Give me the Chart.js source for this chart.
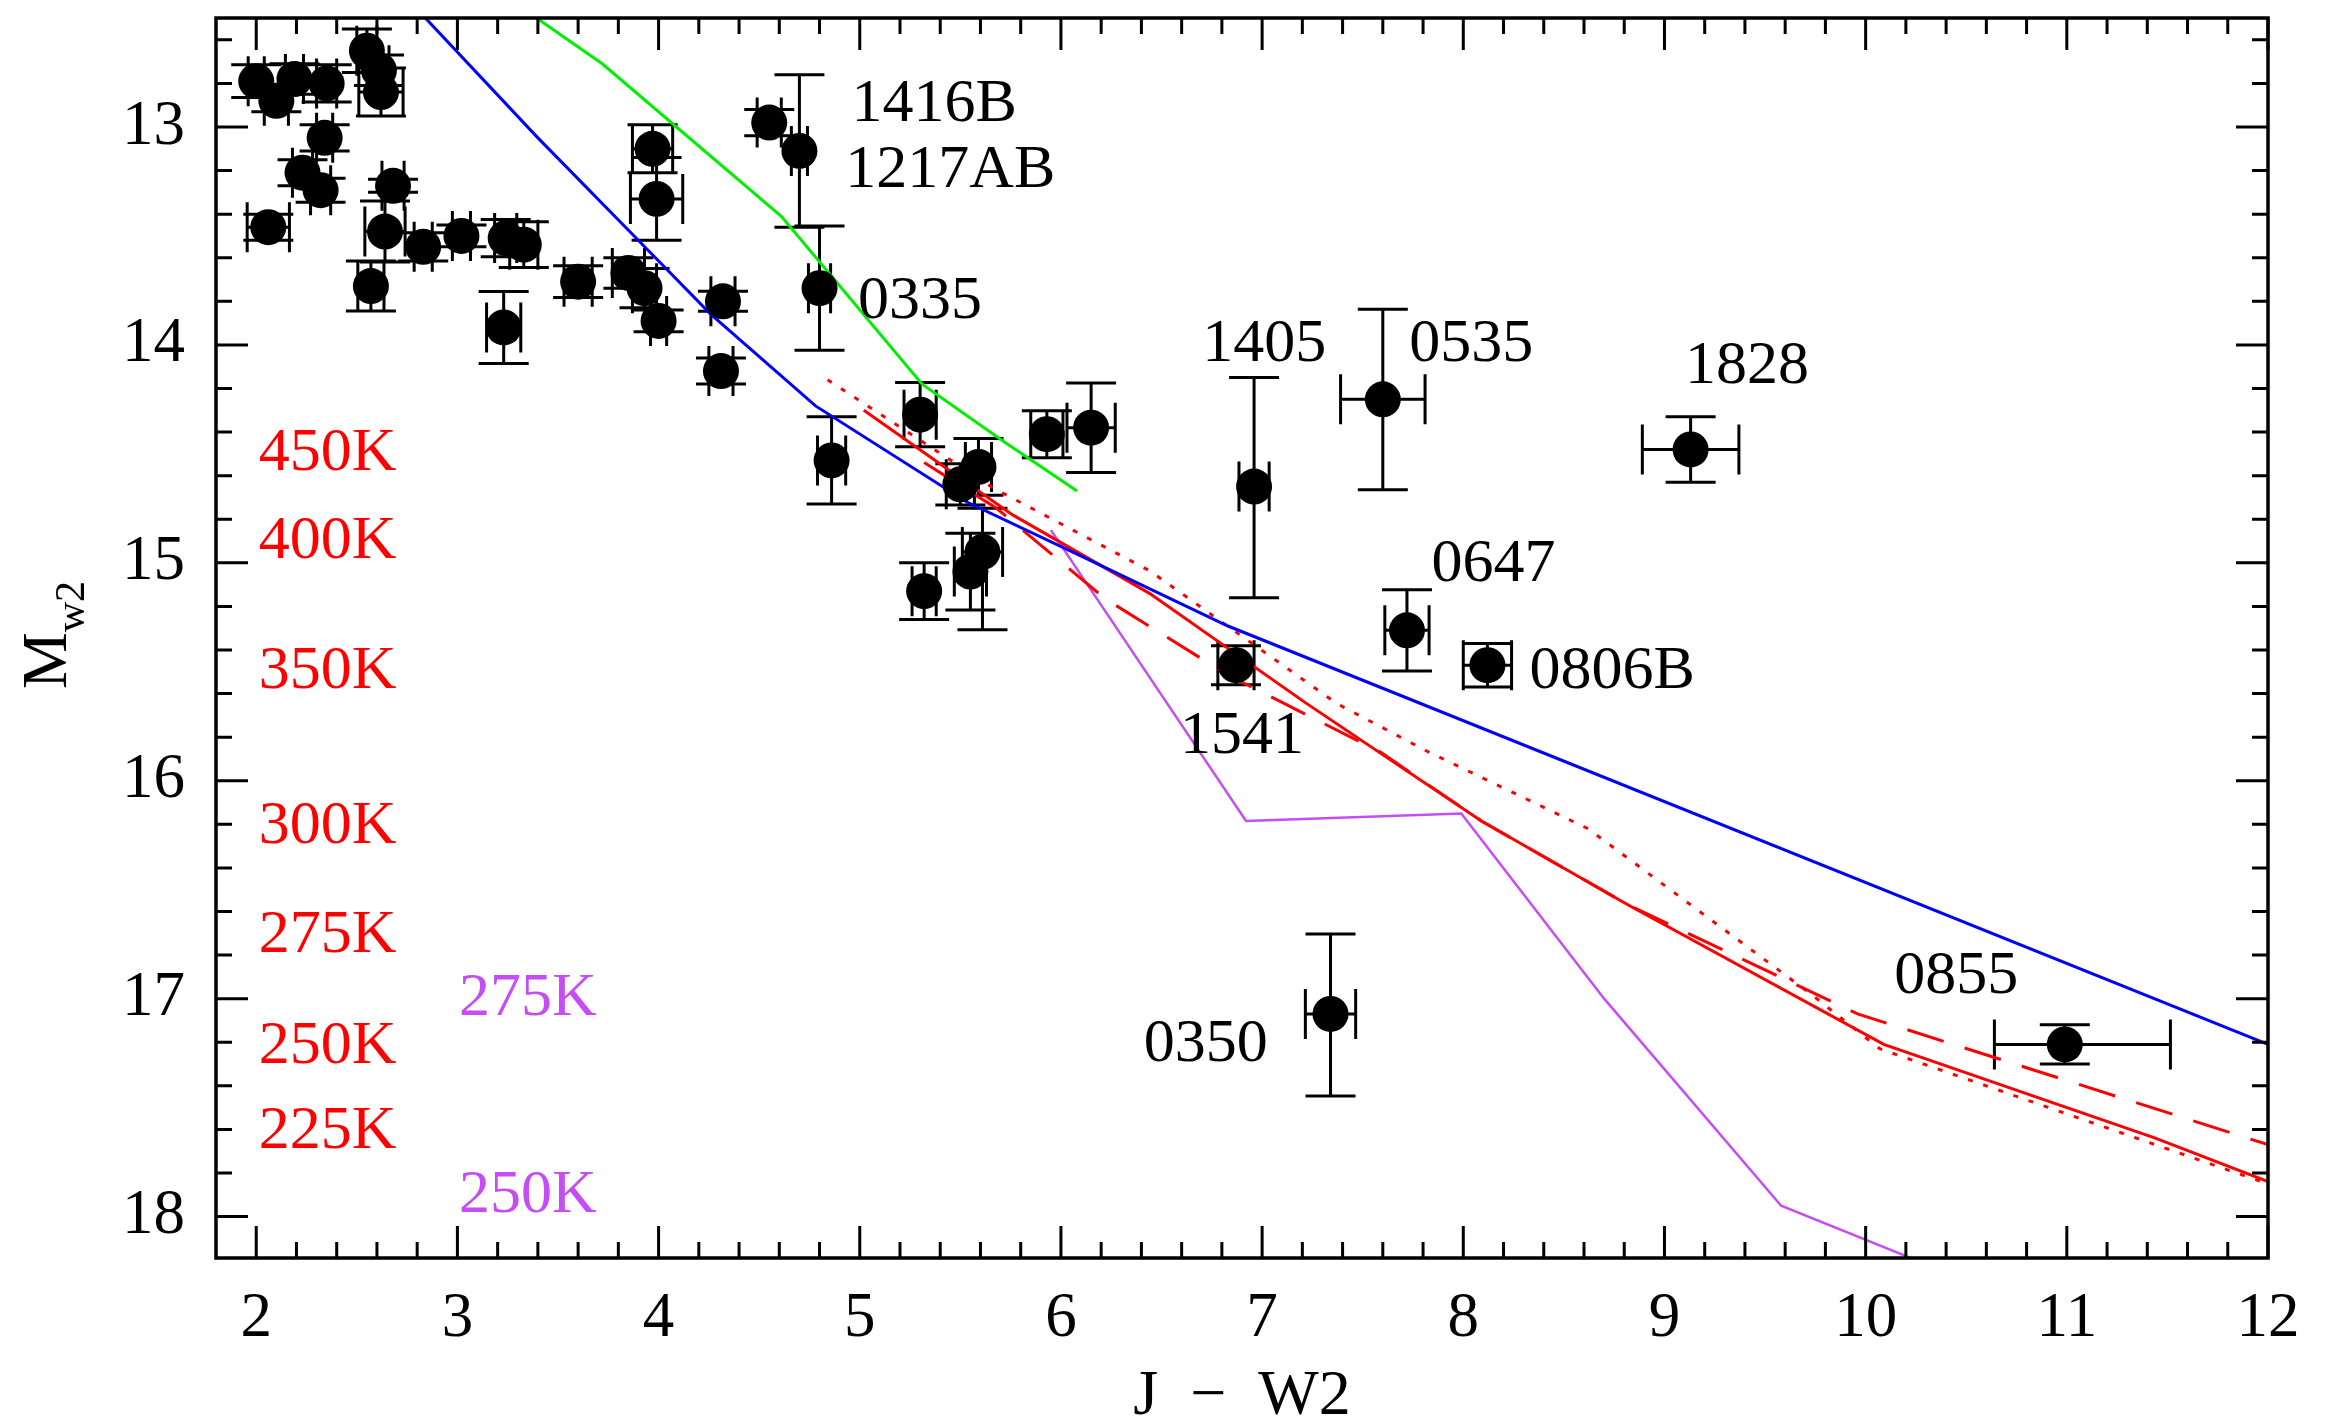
<!DOCTYPE html>
<html>
<head>
<meta charset="utf-8">
<script src="https://cdn.jsdelivr.net/npm/chart.js@4.4.1/dist/chart.umd.min.js"></script>
<style>
  body { margin: 0; background: #fff; }
  canvas { display: block; }
</style>
</head>
<body>
<canvas id="cmd" width="2334" height="1423" style="width:2334px;height:1423px"></canvas>
<script>
// J-W2 colour and W2 absolute magnitude of each object
const ptX = [2.00, 2.10, 2.19, 2.35, 2.55, 2.61, 2.62, 2.34, 2.23, 2.32, 2.06, 2.68, 2.64, 2.57, 2.83, 3.02,
    3.24, 3.33, 3.23, 3.60, 3.85, 3.93, 4.00, 3.97, 3.99, 4.32, 4.31, 4.55, 4.70, 4.80, 4.86, 5.30,
    5.32, 5.50, 5.59, 5.55, 5.61, 5.93, 6.15, 6.87, 6.96, 7.34, 7.60, 7.72, 8.12, 9.13, 10.99];
const ptY = [12.79, 12.88, 12.78, 12.80, 12.65, 12.74, 12.84, 13.05, 13.21, 13.29, 13.46, 13.27, 13.48, 13.73, 13.55, 13.50,
    13.51, 13.54, 13.92, 13.71, 13.67, 13.74, 13.89, 13.10, 13.33, 13.80, 14.12, 12.98, 13.11, 13.74, 14.53, 14.32,
    15.13, 14.64, 14.56, 15.04, 14.95, 14.41, 14.38, 15.47, 14.65, 17.07, 14.25, 15.31, 15.47, 14.48, 17.21];
// errors (lo = towards smaller value, hi = towards larger value)
const xErrLo = [0.04, 0.06, 0.045, 0.05, 0.05, 0.05, 0.11, 0.04, 0.05, 0.05, 0.105, 0.055, 0.10, 0.065, 0.045, 0.045,
    0.055, 0.07, 0.085, 0.07, 0.08, 0.06, 0.04, 0.10, 0.13, 0.06, 0.06, 0.06, 0.04, 0.055, 0.07, 0.08,
    0.06, 0.07, 0.065, 0.08, 0.10, 0.08, 0.12, 0.09, 0.075, 0.125, 0.21, 0.11, 0.12, 0.24, 0.35];
const xErrHi = [0.04, 0.06, 0.045, 0.05, 0.05, 0.05, 0.11, 0.04, 0.05, 0.05, 0.105, 0.055, 0.10, 0.065, 0.045, 0.045,
    0.055, 0.07, 0.085, 0.07, 0.08, 0.06, 0.04, 0.10, 0.13, 0.06, 0.06, 0.06, 0.04, 0.055, 0.07, 0.08,
    0.06, 0.07, 0.065, 0.08, 0.10, 0.08, 0.12, 0.09, 0.075, 0.125, 0.21, 0.11, 0.12, 0.24, 0.525];
const yErrLo = [0.075, 0.05, 0.07, 0.085, 0.10, 0.07, 0.11, 0.06, 0.06, 0.055, 0.06, 0.03, 0.14, 0.115, 0.065, 0.05,
    0.085, 0.105, 0.165, 0.073, 0.07, 0.09, 0.05, 0.11, 0.19, 0.046, 0.06, 0.06, 0.35, 0.285, 0.20, 0.147,
    0.13, 0.095, 0.13, 0.176, 0.20, 0.108, 0.205, 0.09, 0.50, 0.367, 0.414, 0.186, 0.10, 0.15, 0.09];
const yErrHi = [0.075, 0.05, 0.07, 0.085, 0.10, 0.07, 0.11, 0.06, 0.06, 0.055, 0.06, 0.03, 0.14, 0.115, 0.065, 0.05,
    0.085, 0.105, 0.165, 0.073, 0.07, 0.09, 0.05, 0.11, 0.19, 0.046, 0.06, 0.06, 0.35, 0.285, 0.20, 0.147,
    0.13, 0.095, 0.13, 0.176, 0.357, 0.108, 0.205, 0.09, 0.51, 0.377, 0.415, 0.186, 0.10, 0.15, 0.09];

// model tracks
const blueX = [2.80, 3.40, 3.91, 4.26, 4.78, 5.53, 6.08, 6.83, 12.0];
const blueY = [12.46, 13.05, 13.53, 13.86, 14.28, 14.72, 14.96, 15.29, 17.21];
const greenX = [3.30, 3.72, 4.61, 5.31, 5.71, 6.08];
const greenY = [12.44, 12.71, 13.41, 14.18, 14.44, 14.67];
const redSolidX = [5.02, 5.76, 6.44, 7.22, 8.09, 8.82, 10.09, 11.44, 12.0];
const redSolidY = [14.30, 14.78, 15.14, 15.645, 16.185, 16.57, 17.21, 17.64, 17.84];
const redDashX = [5.32, 5.68, 6.22, 6.83, 7.59, 8.09, 8.82, 9.96, 12.0];
const redDashY = [14.54, 14.75, 15.165, 15.515, 15.87, 16.185, 16.57, 17.07, 17.67];
const redDotX = [4.84, 5.66, 6.44, 7.37, 7.81, 8.62, 9.73, 10.07, 12.0];
const redDotY = [14.16, 14.655, 15.036, 15.645, 15.86, 16.22, 16.98, 17.23, 17.85];
const purpleX = [5.95, 6.92, 7.99, 8.70, 9.58, 10.6];
const purpleY = [14.85, 16.185, 16.15, 17.00, 17.95, 18.33];

// object names
const nameText = ['1416B', '1217AB', '0335', '1405', '0535', '1828', '0647', '0806B', '1541', '0350', '0855'];
const nameX = [5.37, 5.45, 5.30, 7.01, 8.04, 9.41, 8.15, 8.74, 6.90, 6.72, 10.45];
const nameY = [12.90, 13.20, 13.80, 14.00, 14.00, 14.10, 15.01, 15.50, 15.80, 17.21, 16.90];

// temperature labels
const redTempText = ['450K', '400K', '350K', '300K', '275K', '250K', '225K'];
const redTempY = [14.50, 14.905, 15.50, 16.21, 16.71, 17.22, 17.61];
const redTempX = 2.355;
const purpleTempText = ['275K', '250K'];
const purpleTempY = [17.00, 17.906];
const purpleTempX = 3.35;

const FONT = '"Liberation Serif", "DejaVu Serif", serif';
const PURPLE = '#c64cf5';

function toPoints(xs, ys) {
    return xs.map((x, i) => ({ x: x, y: ys[i] }));
}

function lineSet(xs, ys, color, dash, width) {
    return {
        type: 'line',
        data: toPoints(xs, ys),
        borderColor: color,
        borderWidth: width || 3,
        borderDash: dash || [],
        pointRadius: 0,
        fill: false,
        tension: 0
    };
}

// fixed axis box, no extra label padding
function fixScale(size) {
    return s => {
        if (s.isHorizontal()) s.height = size; else s.width = size;
        s.paddingTop = 0;
        s.paddingBottom = 0;
        s.paddingLeft = 0;
        s.paddingRight = 0;
    };
}

const errorBars = {
    id: 'errorBars',
    beforeDatasetsDraw(chart) {
        const { ctx, chartArea, scales: { x, y } } = chart;
        const cap = 25;
        ctx.save();
        ctx.beginPath();
        ctx.rect(chartArea.left, chartArea.top, chartArea.right - chartArea.left, chartArea.bottom - chartArea.top);
        ctx.clip();
        ctx.strokeStyle = '#000';
        ctx.lineWidth = 3;
        ptX.forEach((vx, i) => {
            const px = x.getPixelForValue(vx);
            const py = y.getPixelForValue(ptY[i]);
            const x1 = x.getPixelForValue(vx - xErrLo[i]);
            const x2 = x.getPixelForValue(vx + xErrHi[i]);
            const y1 = y.getPixelForValue(ptY[i] - yErrLo[i]);
            const y2 = y.getPixelForValue(ptY[i] + yErrHi[i]);
            ctx.beginPath();
            ctx.moveTo(x1, py); ctx.lineTo(x2, py);
            ctx.moveTo(x1, py - cap); ctx.lineTo(x1, py + cap);
            ctx.moveTo(x2, py - cap); ctx.lineTo(x2, py + cap);
            ctx.moveTo(px, y1); ctx.lineTo(px, y2);
            ctx.moveTo(px - cap, y1); ctx.lineTo(px + cap, y1);
            ctx.moveTo(px - cap, y2); ctx.lineTo(px + cap, y2);
            ctx.stroke();
        });
        ctx.restore();
    }
};

const labelsAndFrame = {
    id: 'labelsAndFrame',
    afterDraw(chart) {
        const { ctx, chartArea: a, scales: { x, y } } = chart;
        ctx.save();

        // text labels
        ctx.font = '62px ' + FONT;
        ctx.textAlign = 'center';
        ctx.textBaseline = 'middle';
        ctx.fillStyle = '#000';
        nameText.forEach((t, i) => ctx.fillText(t, x.getPixelForValue(nameX[i]), y.getPixelForValue(nameY[i])));
        ctx.fillStyle = '#ff0000';
        redTempText.forEach((t, i) => ctx.fillText(t, x.getPixelForValue(redTempX), y.getPixelForValue(redTempY[i])));
        ctx.fillStyle = PURPLE;
        purpleTempText.forEach((t, i) => ctx.fillText(t, x.getPixelForValue(purpleTempX), y.getPixelForValue(purpleTempY[i])));

        // frame and inward ticks on all four sides
        ctx.strokeStyle = '#000';
        ctx.lineWidth = 3.5;
        ctx.strokeRect(a.left, a.top, a.right - a.left, a.bottom - a.top);
        ctx.lineWidth = 3;
        ctx.beginPath();
        for (let k = 10; k <= 60; k++) {
            const px = x.getPixelForValue(k / 5);
            const len = k % 5 === 0 ? 32 : 16;
            ctx.moveTo(px, a.bottom); ctx.lineTo(px, a.bottom - len);
            ctx.moveTo(px, a.top); ctx.lineTo(px, a.top + len);
        }
        for (let k = 63; k <= 90; k++) {
            const py = y.getPixelForValue(k / 5);
            const len = k % 5 === 0 ? 32 : 16;
            ctx.moveTo(a.left, py); ctx.lineTo(a.left + len, py);
            ctx.moveTo(a.right, py); ctx.lineTo(a.right - len, py);
        }
        ctx.stroke();

        // y axis title with subscript
        ctx.translate(66, 635);
        ctx.rotate(-Math.PI / 2);
        ctx.fillStyle = '#000';
        ctx.textAlign = 'left';
        ctx.textBaseline = 'alphabetic';
        ctx.font = '64px ' + FONT;
        const wM = ctx.measureText('M').width;
        ctx.font = '42px ' + FONT;
        const wS = ctx.measureText('w2').width;
        const start = -(wM + wS) / 2;
        ctx.font = '64px ' + FONT;
        ctx.fillText('M', start, 0);
        ctx.font = '42px ' + FONT;
        ctx.fillText('w2', start + wM, 18);
        ctx.restore();
    }
};

new Chart(document.getElementById('cmd'), {
    type: 'scatter',
    data: {
        datasets: [
            {
                data: toPoints(ptX, ptY),
                backgroundColor: '#000',
                borderWidth: 0,
                pointRadius: 18,
                pointHoverRadius: 18
            },
            lineSet(blueX, blueY, '#0000ff'),
            lineSet(greenX, greenY, '#00ee00'),
            lineSet(redSolidX, redSolidY, '#ff0000'),
            lineSet(redDashX, redDashY, '#ff0000', [38, 22]),
            lineSet(redDotX, redDotY, '#ff0000', [5, 11]),
            lineSet(purpleX, purpleY, PURPLE, [], 2.5)
        ]
    },
    options: {
        responsive: false,
        animation: false,
        layout: { padding: { top: 12, right: 66, left: 0, bottom: 0 } },
        plugins: { legend: { display: false }, tooltip: { enabled: false } },
        scales: {
            x: {
                type: 'linear',
                min: 1.8,
                max: 12,
                afterFit: fixScale(165),
                grid: { display: false, drawTicks: false },
                border: { display: false },
                ticks: {
                    stepSize: 1,
                    includeBounds: false,
                    autoSkip: false,
                    maxRotation: 0,
                    padding: 24,
                    color: '#000',
                    font: { family: FONT, size: 63 }
                },
                title: {
                    display: true,
                    text: 'J  \u2212  W2',
                    color: '#000',
                    padding: 0,
                    font: { family: FONT, size: 64, lineHeight: 0.8 }
                }
            },
            y: {
                type: 'linear',
                reverse: true,
                min: 12.5,
                max: 18.19,
                afterFit: fixScale(216),
                grid: { display: false, drawTicks: false },
                border: { display: false },
                ticks: {
                    stepSize: 1,
                    includeBounds: false,
                    autoSkip: false,
                    padding: 31,
                    color: '#000',
                    font: { family: FONT, size: 63 }
                }
            }
        }
    },
    plugins: [errorBars, labelsAndFrame]
});
</script>
</body>
</html>
